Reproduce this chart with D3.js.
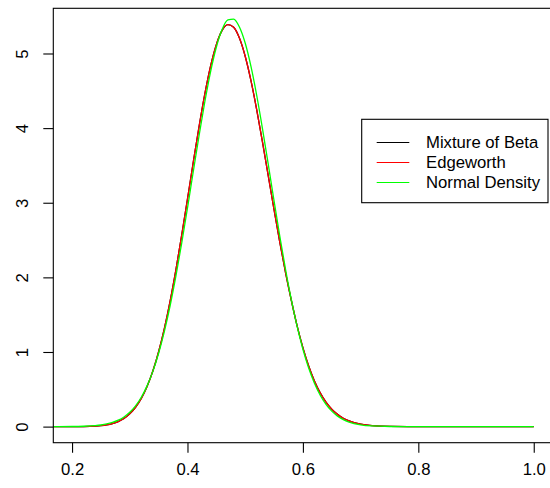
<!DOCTYPE html>
<html>
<head>
<meta charset="utf-8">
<script src="https://cdn.jsdelivr.net/npm/d3@7"></script>
<style>
  body { margin: 0; background: #fff; }
  text { font-family: "Liberation Sans", Arial, Helvetica, sans-serif; }
</style>
</head>
<body>
<div id="app"></div>
<script>
// data: density curves
var xs = [0.15, 0.20, 0.22, 0.24, 0.25, 0.26, 0.27, 0.28, 0.29, 0.30,
  0.31, 0.32, 0.33, 0.34, 0.35, 0.36, 0.37, 0.38, 0.39, 0.40,
  0.41, 0.42, 0.43, 0.44, 0.45, 0.46, 0.47, 0.48, 0.49, 0.50,
  0.51, 0.52, 0.53, 0.54, 0.55, 0.56, 0.57, 0.58, 0.59, 0.60,
  0.61, 0.62, 0.63, 0.64, 0.65, 0.66, 0.67, 0.68, 0.70, 0.72,
  0.75, 0.80, 0.90, 1.00];

var mixtureBeta = [0, 0, 0.0011, 0.0063, 0.0124, 0.023, 0.0404, 0.0677, 0.1094, 0.1707,
  0.258, 0.3776, 0.5377, 0.7446, 1.0034, 1.3172, 1.6858, 2.105, 2.565, 3.05,
  3.541, 4.017, 4.455, 4.83, 5.119, 5.309, 5.387, 5.352, 5.207, 4.963,
  4.636, 4.245, 3.813, 3.36, 2.907, 2.47, 2.061, 1.69, 1.35, 1.058,
  0.813, 0.6126, 0.4531, 0.329, 0.2345, 0.164, 0.1127, 0.076, 0.0327, 0.013,
  0.0029, 0.0002, 0, 0];

var edgeworth = [0, 0, 0.0011, 0.0063, 0.0124, 0.023, 0.0404, 0.0677, 0.1094, 0.1707,
  0.258, 0.3776, 0.5377, 0.7446, 1.0034, 1.3172, 1.6858, 2.105, 2.565, 3.05,
  3.541, 4.017, 4.455, 4.83, 5.119, 5.309, 5.387, 5.352, 5.207, 4.963,
  4.636, 4.245, 3.813, 3.36, 2.907, 2.47, 2.061, 1.69, 1.35, 1.058,
  0.813, 0.6126, 0.4531, 0.329, 0.2345, 0.164, 0.1127, 0.076, 0.0327, 0.013,
  0.0029, 0.0002, 0, 0];

var normalDensity = [0.0001, 0.0014, 0.0046, 0.0132, 0.0218, 0.0352, 0.0557, 0.0859, 0.1298, 0.1921,
  0.2779, 0.394, 0.5457, 0.7403, 0.9826, 1.2768, 1.623, 2.0196, 2.458, 2.929,
  3.416, 3.897, 4.351, 4.755, 5.084, 5.321, 5.449, 5.461, 5.355, 5.14,
  4.827, 4.437, 3.991, 3.513, 3.026, 2.551, 2.104, 1.698, 1.342, 1.037,
  0.785, 0.581, 0.421, 0.2985, 0.2072, 0.1406, 0.0934, 0.0608, 0.0241, 0.0087,
  0.0016, 0.0001, 0, 0];

var seriesNames = ["Mixture of Beta", "Edgeworth", "Normal Density"];
var seriesColors = ["#000000", "#ff0000", "#00ff00"];
var xTicks = [0.2, 0.4, 0.6, 0.8, 1.0];
var yTicks = [0, 1, 2, 3, 4, 5];

var width = 550, height = 488;
var plot = {left: 53.3, right: 552.5, top: 8.3, bottom: 442.7};
var fontSize = 16.7;

var svg = d3.select("#app")
  .append("svg")
    .attr("width", width)
    .attr("height", height)
    .style("background", "#fff");

// scales (R style: 4% padding round the data range)
var x = d3.scaleLinear()
  .domain([0.1675, 1.0325])
  .range([plot.left, plot.right]);

var y = d3.scaleLinear()
  .domain([-0.2156, 5.6056])
  .range([plot.bottom, plot.top]);

svg.append("defs").append("clipPath")
    .attr("id", "plotClip")
  .append("rect")
    .attr("x", plot.left)
    .attr("y", plot.top)
    .attr("width", plot.right - plot.left)
    .attr("height", plot.bottom - plot.top);

// curves
var line = d3.line()
  .x(function(d) { return x(d[0]); })
  .y(function(d) { return y(d[1]); })
  .curve(d3.curveMonotoneX);

var allSeries = [mixtureBeta, edgeworth, normalDensity];
var curves = svg.append("g").attr("clip-path", "url(#plotClip)");
allSeries.forEach(function(vals, i) {
  curves.append("path")
    .datum(xs.map(function(v, j) { return [v, vals[j]]; }))
    .attr("fill", "none")
    .attr("stroke", seriesColors[i])
    .attr("stroke-width", 1.3)
    .attr("d", line);
});

// box
svg.append("rect")
  .attr("x", plot.left)
  .attr("y", plot.top)
  .attr("width", plot.right - plot.left)
  .attr("height", plot.bottom - plot.top)
  .attr("fill", "none")
  .attr("stroke", "#000")
  .attr("stroke-width", 1.1);

// x axis
var xAxis = svg.append("g")
  .attr("transform", "translate(0," + plot.bottom + ")")
  .call(d3.axisBottom(x).tickValues(xTicks).tickSize(10).tickFormat(d3.format(".1f")));
xAxis.select(".domain").remove();
xAxis.selectAll("line").attr("stroke", "#000").attr("stroke-width", 1.1);
xAxis.selectAll("text")
  .attr("y", 0)
  .attr("dy", null)
  .attr("transform", "translate(0,32)")
  .attr("fill", "#000")
  .style("font-size", fontSize + "px")
  .style("font-family", "'Liberation Sans', Arial, sans-serif");

// y axis
var yAxis = svg.append("g")
  .attr("transform", "translate(" + plot.left + ",0)")
  .call(d3.axisLeft(y).tickValues(yTicks).tickSize(10).tickFormat(d3.format("d")));
yAxis.select(".domain").remove();
yAxis.selectAll("line").attr("stroke", "#000").attr("stroke-width", 1.1);
yAxis.selectAll("text")
  .attr("x", null)
  .attr("dy", null)
  .attr("transform", "translate(-25,0) rotate(-90)")
  .attr("text-anchor", "middle")
  .attr("fill", "#000")
  .style("font-size", fontSize + "px")
  .style("font-family", "'Liberation Sans', Arial, sans-serif");

// legend
var legend = svg.append("g").attr("class", "legend");
legend.append("rect")
  .attr("x", 361.7)
  .attr("y", 119.3)
  .attr("width", 186.3)
  .attr("height", 83.4)
  .attr("fill", "#fff")
  .attr("stroke", "#000")
  .attr("stroke-width", 1.1);

seriesNames.forEach(function(name, i) {
  var cy = 142.5 + i * 20;
  legend.append("line")
    .attr("x1", 376.7)
    .attr("x2", 409.3)
    .attr("y1", cy)
    .attr("y2", cy)
    .attr("stroke", seriesColors[i])
    .attr("stroke-width", 1);
  legend.append("text")
    .attr("x", 426)
    .attr("y", cy)
    .attr("dy", "0.35em")
    .style("font-size", fontSize + "px")
    .text(name);
});
</script>
</body>
</html>
